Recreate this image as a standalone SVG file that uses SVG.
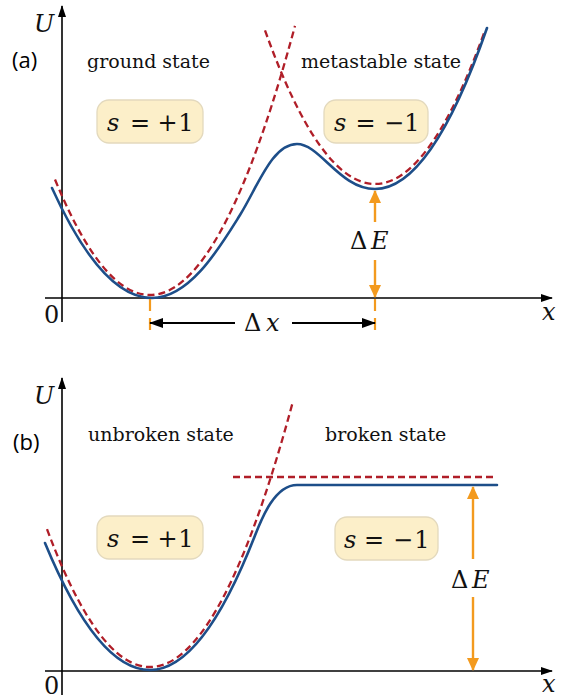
<svg xmlns="http://www.w3.org/2000/svg" width="573" height="700" viewBox="0 0 573 700">
<style>
.axis{stroke:#000;stroke-width:1.6;fill:none}
.blue{stroke:#1d4e89;stroke-width:2.6;fill:none;stroke-linecap:round}
.red{stroke:#b01e28;stroke-width:2.3;fill:none;stroke-dasharray:7 4}
.org{stroke:#f39a1e;stroke-width:2.4;fill:none}
.orgd{stroke:#f39a1e;stroke-width:2.2;fill:none;stroke-dasharray:12 7}
.blk{stroke:#000;stroke-width:2;fill:none}
.box{fill:#fcefc9;stroke:#e3d9bd;stroke-width:1.3}
.lbl{font-family:'DejaVu Serif',serif;font-size:19px;fill:#111}
.pan{font-family:'Open Sans','Liberation Sans',sans-serif;font-size:22px;fill:#000}
.m{font-family:'DejaVu Serif',serif;font-size:24px;fill:#111}
.mi{font-family:'DejaVu Serif',serif;font-size:24px;font-style:italic;fill:#111}
.op{font-family:'DejaVu Serif',serif;font-size:24px;fill:#111;text-anchor:middle}
.c{text-anchor:middle}
</style>
<defs>
<marker id="axh" markerWidth="12" markerHeight="8" refX="11" refY="4" orient="auto" markerUnits="userSpaceOnUse"><path d="M0,0 L12,4 L0,8 z" fill="#000"/></marker>
<marker id="kh" markerWidth="14" markerHeight="10" refX="13" refY="5" orient="auto" markerUnits="userSpaceOnUse"><path d="M0,0 L14,5 L0,10 z" fill="#000"/></marker>
<marker id="oh" markerWidth="13" markerHeight="12" refX="12" refY="6" orient="auto" markerUnits="userSpaceOnUse"><path d="M0,0 L13,6 L0,12 z" fill="#f39a1e"/></marker>
</defs>

<g id="panel-a">
  <g id="axes-a">
    <line class="axis" x1="62" y1="322" x2="62" y2="6" marker-end="url(#axh)"/>
    <line class="axis" x1="45" y1="298" x2="552" y2="298" marker-end="url(#axh)"/>
    <text class="mi" x="34" y="32" font-size="25">U</text>
    <text class="m" x="44" y="323" font-size="22">0</text>
    <text class="mi" x="542" y="320" font-size="25">x</text>
  </g>
  <g id="curves-a">
    <path class="red" d="M55,179.5 Q175,471.3 295,25.9"/>
    <path class="red" d="M265,30.3 Q375,337.6 485,30.3"/>
    <path class="blue" d="M52,188 Q102,298 152,298 C190,298 220,247 240,215 C258,186 272,144 297,144 C320,144 340,189 375,189 Q431,189 487,28"/>
  </g>
  <g id="markers-a">
    <line class="orgd" x1="150" y1="299" x2="150" y2="336"/>
    <line class="orgd" x1="375" y1="299" x2="375" y2="337"/>
  </g>
  <g id="connectors-a">
    <path class="org" d="M375,222 L375,191" marker-end="url(#oh)"/>
    <path class="org" d="M375,260 L375,297" marker-end="url(#oh)"/>
    <path class="blk" d="M235,323 L150,323" marker-end="url(#kh)"/>
    <path class="blk" d="M292,323 L375,323" marker-end="url(#kh)"/>
  </g>
  <g id="label-a">
    <text class="pan" x="12" y="68">(a)</text>
    <text class="lbl" x="87" y="68">ground state</text>
    <text class="lbl" x="301" y="68">metastable state</text>
    <text class="m" x="350" y="249">Δ<tspan class="mi" x="371">E</tspan></text>
    <text class="m" x="244" y="331">Δ<tspan class="mi" x="266">x</tspan></text>
  </g>
  <g id="box-a1">
    <rect class="box" x="97" y="100" width="106" height="43" rx="12"/>
    <text class="mi" x="107" y="131">s</text>
    <text class="op" x="140" y="131">=</text>
    <text class="op" x="167.5" y="131">+</text>
    <text class="m c" x="186" y="131">1</text>
  </g>
  <g id="box-a2">
    <rect class="box" x="324" y="100" width="104" height="43" rx="12"/>
    <text class="mi" x="334" y="131">s</text>
    <text class="op" x="365.5" y="131">=</text>
    <text class="op" x="394" y="131">−</text>
    <text class="m c" x="412" y="131">1</text>
  </g>
</g>

<g id="panel-b">
  <g id="axes-b">
    <line class="axis" x1="62" y1="695" x2="62" y2="378" marker-end="url(#axh)"/>
    <line class="axis" x1="45" y1="671" x2="552" y2="671" marker-end="url(#axh)"/>
    <text class="mi" x="34" y="404" font-size="25">U</text>
    <text class="m" x="44" y="694" font-size="22">0</text>
    <text class="mi" x="542" y="692" font-size="25">x</text>
  </g>
  <g id="curves-b">
    <path class="red" d="M47,529.1 Q170,858.5 293,401.2"/>
    <line class="red" x1="233" y1="477" x2="497" y2="477"/>
    <path class="blue" d="M45,543 Q97.5,670 150,670 Q202.5,670 255,535.5 C262,517.6 275,485 297,485 L497,485"/>
  </g>
  <g id="connectors-b">
    <path class="org" d="M473,559 L473,487" marker-end="url(#oh)"/>
    <path class="org" d="M473,597 L473,670" marker-end="url(#oh)"/>
  </g>
  <g id="label-b">
    <text class="pan" x="13" y="450">(b)</text>
    <text class="lbl" x="88" y="441">unbroken state</text>
    <text class="lbl" x="325" y="441">broken state</text>
    <text class="m" x="451" y="588">Δ<tspan class="mi" x="472">E</tspan></text>
  </g>
  <g id="box-b1">
    <rect class="box" x="97" y="516" width="106" height="43" rx="12"/>
    <text class="mi" x="107" y="547">s</text>
    <text class="op" x="140" y="547">=</text>
    <text class="op" x="167.5" y="547">+</text>
    <text class="m c" x="186" y="547">1</text>
  </g>
  <g id="box-b2">
    <rect class="box" x="335" y="517" width="103" height="43" rx="12"/>
    <text class="mi" x="344" y="548">s</text>
    <text class="op" x="374" y="548">=</text>
    <text class="op" x="403" y="548">−</text>
    <text class="m c" x="422" y="548">1</text>
  </g>
</g>
</svg>
